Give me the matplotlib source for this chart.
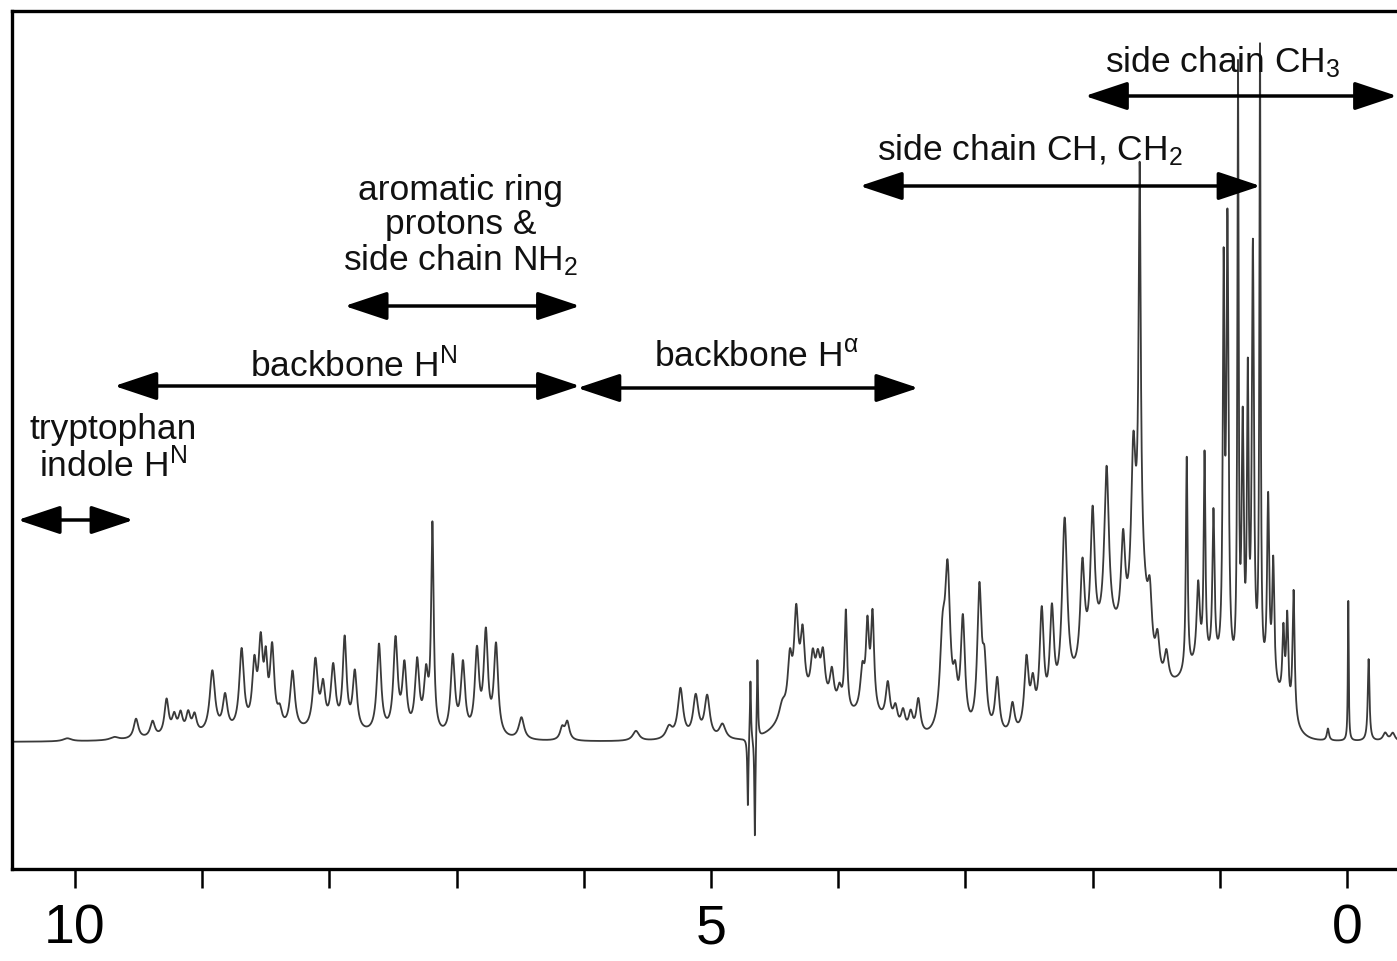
import numpy as np
import matplotlib.pyplot as plt

plt.rcParams['font.family'] = ['Liberation Sans', 'DejaVu Sans']
plt.rcParams['mathtext.fontset'] = 'custom'
plt.rcParams['mathtext.rm'] = 'Liberation Sans'
plt.rcParams['mathtext.it'] = 'Liberation Sans'

# 1H NMR peaks: shift (ppm), height, half width (ppm)
peak_ppm = [10.06, 9.69, 9.52, 9.39, 9.28, 9.22, 9.17, 9.11, 9.06,
            8.92, 8.82, 8.69, 8.59, 8.54, 8.50, 8.45, 8.39, 8.29, 8.11, 8.05,
            7.97, 7.88, 7.80, 7.61, 7.48, 7.41, 7.31, 7.24, 7.19, 7.03,
            6.95, 6.84, 6.77, 6.69, 6.49, 6.17, 6.13, 5.59, 5.33, 5.24,
            5.12, 5.03, 4.91,
            4.44, 4.38, 4.33, 4.28, 4.20, 4.16, 4.12, 4.05, 3.99, 3.94,
            3.81, 3.77, 3.73, 3.61, 3.55, 3.49, 3.43, 3.37,
            3.18, 3.14, 3.08, 3.02, 2.89, 2.85, 2.75, 2.63, 2.52, 2.47,
            2.40, 2.32, 2.22, 2.08, 2.00, 1.89, 1.76, 1.68, 1.63, 1.55,
            1.49, 1.42, 1.26, 1.17, 1.12, 1.05, 0.97, 0.94, 0.857, 0.82,
            0.78, 0.74, 0.684, 0.62, 0.58, 0.50, 0.47, 0.42,
            0.15, -0.01, -0.17, -0.30, -0.36]
peak_height = [3, 3, 20, 16, 36, 18, 20, 20, 18,
               62, 35, 80, 60, 80, 55, 78, 15, 58, 68, 40,
               62, 90, 58, 88, 92, 65, 70, 55, 205, 78,
               70, 82, 100, 90, 22, 12, 18, 10, 12, 50,
               42, 42, 15,
               15, 50, 90, 65, 40, 35, 45, 35, 20, 100,
               40, 80, 95, 40, 20, 20, 20, 35,
               80, 150, 40, 110, 140, 60, 55, 30, 70, 40,
               110, 100, 180, 100, 135, 165, 95, 145, 385, 60,
               40, 30, 215, 80, 205, 150, 380, 440, 600, 250,
               290, 430, 625, 180, 120, 70, 90, 130,
               12, 140, 82, 8, 8]
peak_width = [0.04, 0.04, 0.022, 0.022, 0.02, 0.02, 0.02, 0.02, 0.02,
              0.025, 0.022, 0.022, 0.02, 0.02, 0.015, 0.02, 0.02, 0.022, 0.022, 0.02,
              0.022, 0.018, 0.02, 0.02, 0.02, 0.02, 0.02, 0.02, 0.012, 0.02,
              0.02, 0.02, 0.02, 0.02, 0.025, 0.02, 0.02, 0.03, 0.03, 0.025,
              0.025, 0.025, 0.03,
              0.03, 0.02, 0.02, 0.02, 0.02, 0.02, 0.02, 0.02, 0.02, 0.012,
              0.02, 0.015, 0.015, 0.02, 0.02, 0.02, 0.02, 0.02,
              0.025, 0.025, 0.02, 0.02, 0.02, 0.02, 0.02, 0.02, 0.02, 0.02,
              0.02, 0.02, 0.025, 0.02, 0.02, 0.022, 0.02, 0.02, 0.01, 0.02,
              0.02, 0.02, 0.008, 0.015, 0.008, 0.01, 0.008, 0.01, 0.006, 0.01,
              0.008, 0.01, 0.006, 0.01, 0.01, 0.01, 0.01, 0.01,
              0.01, 0.004, 0.008, 0.02, 0.02]

# broad underlying envelopes: centre (ppm), height, sigma (ppm)
hump_ppm = [8.3, 4.2, 3.75, 1.85, 1.1, 0.6, 1.63]
hump_height = [8, 35, 20, 100, 70, 40, 90]
hump_sigma = [0.7, 0.2, 0.15, 0.25, 0.25, 0.12, 0.05]

# residual water signal (dispersive, goes below baseline)
water_ppm = [4.71, 4.69, 4.655, 4.635]
water_height = [-70, 62, -104, 82]

ppm = np.linspace(10.5, -0.4, 22000)
spectrum = np.zeros_like(ppm)
for c, h, w in zip(peak_ppm, peak_height, peak_width):
    spectrum += h * w**2 / ((ppm - c)**2 + w**2)
for c, h, s in zip(hump_ppm, hump_height, hump_sigma):
    spectrum += h * np.exp(-0.5 * ((ppm - c) / s)**2)
for c, h in zip(water_ppm, water_height):
    spectrum += h * 0.005**2 / ((ppm - c)**2 + 0.005**2)

fig = plt.figure(figsize=(13.97, 9.62), dpi=100)
ax = fig.add_axes([12 / 1397, 1 - 870 / 962, 1 - 12 / 1397, 858 / 962])
ax.plot(ppm, spectrum, color='#3a3a3a', lw=1.3)

ax.set_xlim(10.495, -0.393)
ax.set_ylim(-127, 731)
ax.set_xticks(range(10, -1, -1))
ax.set_xticklabels(['10', '', '', '', '', '5', '', '', '', '', '0'])
ax.tick_params(axis='x', direction='out', length=14, width=1.8,
               labelsize=40, pad=10)
ax.set_yticks([])
for side in ['left', 'top', 'bottom']:
    ax.spines[side].set_linewidth(2.4)
ax.spines['right'].set_visible(False)

# region labels and their arrows
labels = ['side chain CH$_3$', 'side chain CH, CH$_2$',
          'aromatic ring\nprotons &\nside chain NH$_2$',
          'backbone H$^{\\mathrm{N}}$', 'backbone H$^{\\mathrm{α}}$',
          'tryptophan\nindole H$^{\\mathrm{N}}$']
label_x = [0.98, 2.49, 6.97, 7.81, 4.64, 9.70]
label_y = [681, 593, 517, 377, 386, 295]
arrow_from = [2.06, 3.83, 7.88, 9.69, 6.05, 10.45]
arrow_to = [-0.393, 0.68, 6.03, 6.03, 3.37, 9.54]
arrow_y = [646, 556, 436, 356, 354, 222]

for text, tx, ty in zip(labels, label_x, label_y):
    ax.text(tx, ty, text, ha='center', va='center', fontsize=25.5,
            color='#111111', linespacing=1.05)
for x0, x1, y in zip(arrow_from, arrow_to, arrow_y):
    ax.annotate('', xy=(x1, y), xytext=(x0, y), annotation_clip=False,
                arrowprops=dict(arrowstyle='<|-|>,head_length=1.2,head_width=0.4',
                                mutation_scale=22, lw=2.5, color='black',
                                shrinkA=0, shrinkB=0))

plt.savefig('out.png', dpi=100)
